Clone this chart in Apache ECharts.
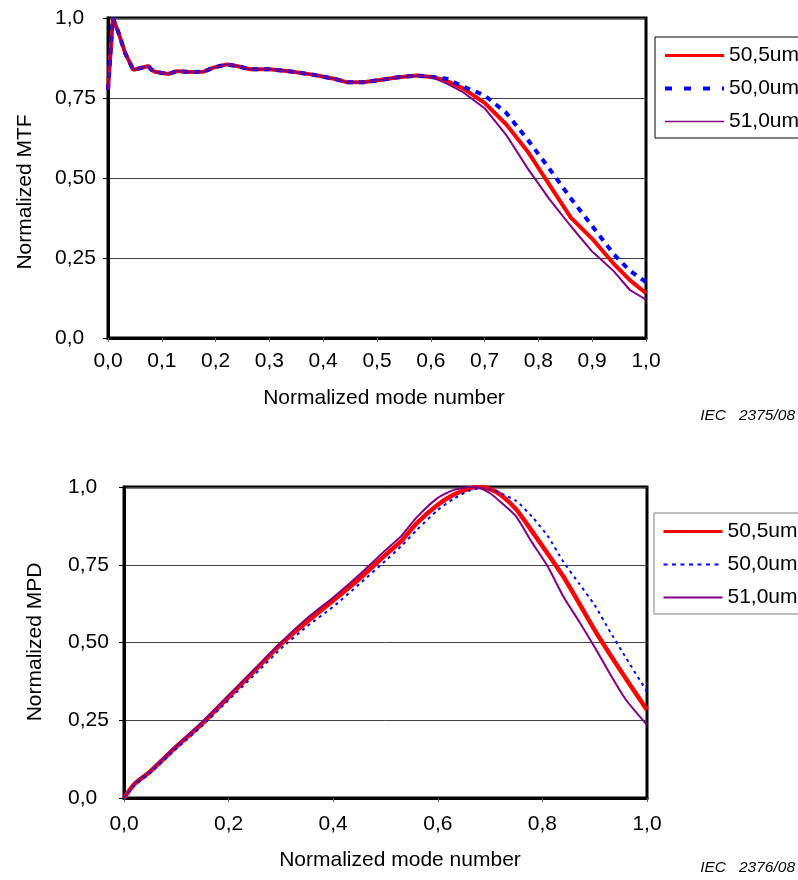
<!DOCTYPE html>
<html>
<head>
<meta charset="utf-8">
<script src="https://cdn.jsdelivr.net/npm/echarts@6/dist/echarts.min.js"></script>
<style>
html,body{margin:0;padding:0;background:#fff;}
#c1{position:absolute;left:0;top:0;width:798px;height:440px;}
#c2{position:absolute;left:0;top:440px;width:798px;height:440px;}
</style>
</head>
<body>
<div id="c1"></div>
<div id="c2"></div>
<script>
// ---------- data ----------
const seriesNames = ['50,5um', '50,0um', '51,0um'];

// Top chart: Normalized MTF vs normalized mode number
const mtfX   = [0, 0.009, 0.019, 0.032, 0.047, 0.059, 0.075, 0.081, 0.087, 0.112, 0.128, 0.152, 0.177, 0.196, 0.221, 0.239, 0.264, 0.30, 0.34, 0.38, 0.42, 0.445, 0.475, 0.505, 0.54, 0.575, 0.605, 0.63, 0.66, 0.70, 0.74, 0.78, 0.82, 0.86, 0.90, 0.94, 0.97, 1.0];
const mtf505 = [0.775, 1.0, 0.957, 0.89, 0.838, 0.843, 0.85, 0.838, 0.832, 0.825, 0.834, 0.831, 0.832, 0.845, 0.855, 0.85, 0.84, 0.84, 0.833, 0.823, 0.81, 0.799, 0.799, 0.806, 0.815, 0.82, 0.815, 0.803, 0.78, 0.735, 0.668, 0.583, 0.48, 0.377, 0.31, 0.232, 0.181, 0.14];
const mtf500 = [0.775, 1.0, 0.957, 0.89, 0.838, 0.843, 0.85, 0.838, 0.832, 0.825, 0.834, 0.831, 0.832, 0.845, 0.855, 0.85, 0.84, 0.84, 0.833, 0.823, 0.81, 0.799, 0.799, 0.806, 0.815, 0.82, 0.815, 0.81, 0.786, 0.758, 0.704, 0.62, 0.53, 0.437, 0.35, 0.262, 0.21, 0.175];
const mtf510 = [0.775, 1.0, 0.957, 0.89, 0.838, 0.843, 0.85, 0.838, 0.832, 0.825, 0.834, 0.831, 0.832, 0.845, 0.855, 0.85, 0.84, 0.84, 0.833, 0.823, 0.81, 0.799, 0.799, 0.806, 0.815, 0.82, 0.813, 0.795, 0.768, 0.718, 0.635, 0.53, 0.435, 0.35, 0.27, 0.209, 0.15, 0.12];

// Bottom chart: Normalized MPD vs normalized mode number
const mpdX   = [0, 0.02, 0.05, 0.1, 0.15, 0.2, 0.25, 0.3, 0.35, 0.4, 0.45, 0.5, 0.53, 0.56, 0.6, 0.63, 0.66, 0.68, 0.7, 0.72, 0.75, 0.78, 0.81, 0.84, 0.87, 0.9, 0.93, 0.96, 1.0];
const mpd505 = [0, 0.045, 0.085, 0.165, 0.24, 0.325, 0.41, 0.495, 0.567, 0.635, 0.705, 0.782, 0.826, 0.884, 0.943, 0.975, 0.995, 1.0, 0.993, 0.975, 0.928, 0.858, 0.786, 0.712, 0.627, 0.54, 0.46, 0.383, 0.283];
const mpd500 = [0, 0.04, 0.08, 0.158, 0.233, 0.315, 0.397, 0.48, 0.552, 0.615, 0.688, 0.763, 0.81, 0.862, 0.926, 0.962, 0.988, 0.996, 0.992, 0.98, 0.955, 0.905, 0.843, 0.76, 0.69, 0.62, 0.533, 0.45, 0.342];
const mpd510 = [0, 0.047, 0.088, 0.168, 0.245, 0.33, 0.415, 0.5, 0.578, 0.645, 0.718, 0.797, 0.842, 0.903, 0.965, 0.99, 1.0, 0.997, 0.98, 0.952, 0.905, 0.822, 0.745, 0.648, 0.568, 0.485, 0.397, 0.315, 0.235];

// Tick labels
const mtfXTicks = ['0,0', '0,1', '0,2', '0,3', '0,4', '0,5', '0,6', '0,7', '0,8', '0,9', '1,0'];
const mpdXTicks = ['0,0', '0,2', '0,4', '0,6', '0,8', '1,0'];
const yTicks    = ['0,0', '0,25', '0,50', '0,75', '1,0'];

// ---------- helpers ----------
const FONT = '"Liberation Sans", Arial, sans-serif';
const zip = (xs, ys) => xs.map((x, i) => [x, ys[i]]);
const COLORS = { red: '#FF0000', blue: '#0000FF', purple: '#800080' };

function xAxisCfg(interval, ticks, margin) {
  return {
    type: 'value', min: 0, max: 1, interval: interval,
    axisLine: { show: true, lineStyle: { color: '#000', width: 3 } },
    axisTick: { show: true, length: 4, lineStyle: { color: '#606060', width: 1 } },
    splitLine: { show: false },
    axisLabel: {
      margin: margin, fontSize: 21, fontFamily: FONT, color: '#000',
      formatter: v => ticks[Math.round(v / interval)]
    }
  };
}
function yAxisCfg(margin) {
  return {
    type: 'value', min: 0, max: 1, interval: 0.25,
    axisLine: { show: true, lineStyle: { color: '#000', width: 3 } },
    axisTick: { show: true, length: 5, lineStyle: { color: '#000', width: 1 } },
    splitLine: { show: true, lineStyle: { color: '#404040', width: 1 } },
    axisLabel: {
      margin: margin, align: 'left', fontSize: 21, fontFamily: FONT, color: '#000',
      formatter: v => yTicks[Math.round(v / 0.25)]
    }
  };
}
function textEl(text, x, y, size, opts) {
  opts = opts || {};
  return {
    type: 'text', x: x, y: y, rotation: opts.rotate ? Math.PI / 2 : 0,
    style: {
      text: text, x: 0, y: 0,
      textAlign: opts.align || 'center', textVerticalAlign: 'middle',
      font: (opts.italic ? 'italic ' : '') + size + 'px ' + FONT, fill: '#000'
    }
  };
}
function legendCfg(left, top, border, styles) {
  return {
    orient: 'vertical', left: left, top: top,
    itemWidth: 59, itemHeight: 14, itemGap: 12,
    padding: [8, 40, 6, 8],
    borderColor: border, borderWidth: 1, backgroundColor: '#fff',
    itemStyle: { opacity: 0 },
    textStyle: { fontSize: 21, fontFamily: FONT, color: '#000' },
    data: seriesNames.map((n, i) => ({ name: n, itemStyle: { opacity: 0 }, lineStyle: styles[i] }))
  };
}

// ---------- top chart ----------
const chart1 = echarts.init(document.getElementById('c1'), null, { renderer: 'canvas' });
chart1.setOption({
  backgroundColor: '#fff',
  animation: false,
  grid: { left: 108, top: 18, width: 538, height: 320, show: true, borderColor: '#000', borderWidth: 3, backgroundColor: 'transparent' },
  xAxis: xAxisCfg(0.1, mtfXTicks, 13),
  yAxis: yAxisCfg(53),
  legend: legendCfg(655, 37, '#000', [
    { width: 3 }, { width: 4, type: [7, 12] }, { width: 1.5 }
  ]),
  series: [
    { name: seriesNames[0], type: 'line', data: zip(mtfX, mtf505), symbol: 'none', showSymbol: false, color: COLORS.red, lineStyle: { color: COLORS.red, width: 4 } },
    { name: seriesNames[1], type: 'line', data: zip(mtfX, mtf500), symbol: 'none', showSymbol: false, color: COLORS.blue, lineStyle: { color: COLORS.blue, width: 4, type: [6, 6] } },
    { name: seriesNames[2], type: 'line', data: zip(mtfX, mtf510), symbol: 'none', showSymbol: false, color: COLORS.purple, lineStyle: { color: COLORS.purple, width: 2 } }
  ],
  graphic: [
    textEl('Normalized mode number', 384, 398, 21),
    textEl('Normalized MTF', 25, 192, 21, { rotate: true }),
    textEl('IEC   2375/08', 795, 416, 15.5, { italic: true, align: 'right' })
  ]
});

// ---------- bottom chart ----------
const chart2 = echarts.init(document.getElementById('c2'), null, { renderer: 'canvas' });
chart2.setOption({
  backgroundColor: '#fff',
  animation: false,
  grid: { left: 124, top: 47, width: 523, height: 311, show: true, borderColor: '#000', borderWidth: 3, backgroundColor: 'transparent' },
  xAxis: xAxisCfg(0.2, mpdXTicks, 16),
  yAxis: yAxisCfg(56),
  legend: legendCfg(654, 73, '#808080', [
    { width: 3 }, { width: 2, type: [4, 4.5] }, { width: 2 }
  ]),
  series: [
    { name: seriesNames[0], type: 'line', data: zip(mpdX, mpd505), symbol: 'none', showSymbol: false, smooth: 0.2, color: COLORS.red, lineStyle: { color: COLORS.red, width: 4.5 } },
    { name: seriesNames[1], type: 'line', data: zip(mpdX, mpd500), symbol: 'none', showSymbol: false, smooth: 0.2, color: COLORS.blue, lineStyle: { color: COLORS.blue, width: 2, type: [3, 4] } },
    { name: seriesNames[2], type: 'line', data: zip(mpdX, mpd510), symbol: 'none', showSymbol: false, smooth: 0.2, color: COLORS.purple, lineStyle: { color: COLORS.purple, width: 2 } }
  ],
  graphic: [
    textEl('Normalized mode number', 400, 420, 21),
    textEl('Normalized MPD', 35, 202, 21, { rotate: true }),
    textEl('IEC   2376/08', 795, 428, 15.5, { italic: true, align: 'right' })
  ]
});
</script>
</body>
</html>
